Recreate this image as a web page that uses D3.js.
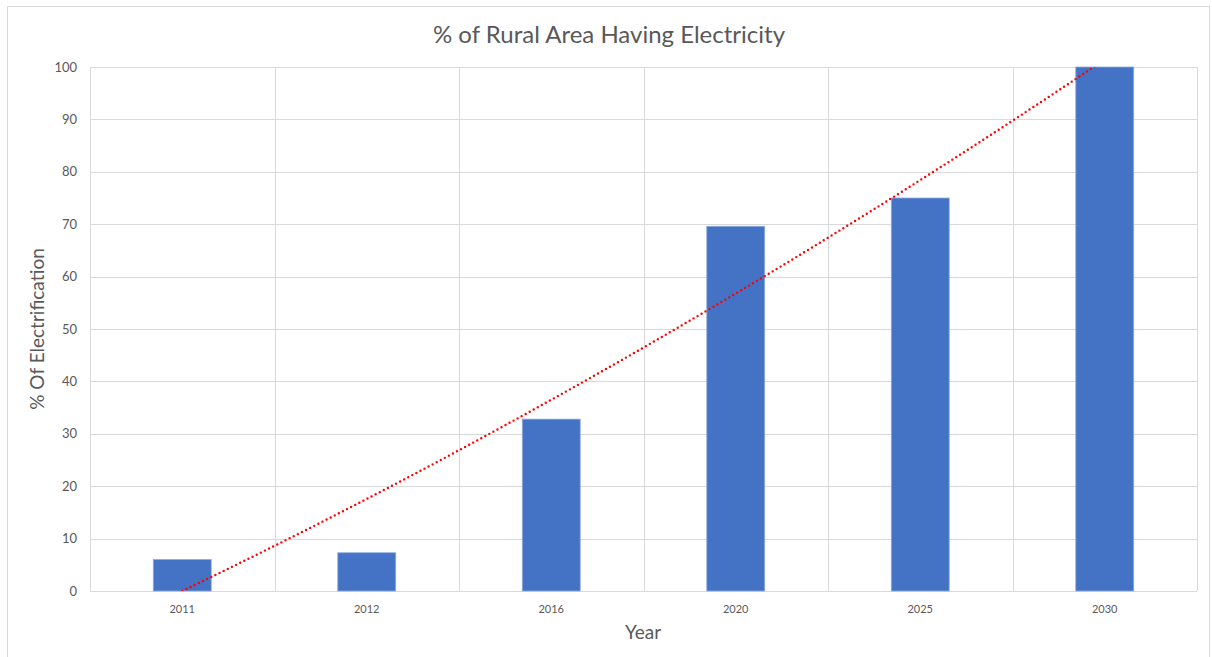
<!DOCTYPE html>
<html>
<head>
<meta charset="utf-8">
<script src="https://cdn.jsdelivr.net/npm/d3@7"></script>
<style>
  html, body { margin: 0; padding: 0; background: #fff; }
  svg { display: block; }
  text { font-family: "Lato", "Open Sans", sans-serif; }
</style>
</head>
<body>
<svg id="chart" width="1212" height="657"></svg>
<script>
// Rural electrification share by year
const years = ["2011", "2012", "2016", "2020", "2025", "2030"];
const electrified = [6, 7.3, 32.8, 69.6, 75, 100];
const yTicks = [0, 10, 20, 30, 40, 50, 60, 70, 80, 90, 100];

const chartTitle = "% of Rural Area Having Electricity";
const xTitle = "Year";
const yTitle = "% Of Electrification";

const svg = d3.select("#chart");
const W = 1212, H = 657;
const plot = { left: 90, right: 1197, top: 67, bottom: 591 };

// chart frame
svg.append("rect")
  .attr("x", 7.5).attr("y", 6.5)
  .attr("width", 1202).attr("height", 660)
  .attr("fill", "#fff").attr("stroke", "#d9d9d9");

const x = d3.scaleBand()
  .domain(years)
  .range([plot.left, plot.right])
  .paddingInner(0.686)
  .paddingOuter(0.343);

const y = d3.scaleLinear()
  .domain([0, 100])
  .range([plot.bottom, plot.top]);

const step = x.step();

// horizontal gridlines
svg.append("g")
  .selectAll("line")
  .data(yTicks)
  .join("line")
  .attr("x1", plot.left).attr("x2", plot.right)
  .attr("y1", d => Math.round(y(d)) + 0.5)
  .attr("y2", d => Math.round(y(d)) + 0.5)
  .attr("stroke", "#d9d9d9").attr("stroke-width", 1);

// vertical gridlines at category boundaries
const bounds = years.map((d, i) => plot.left + i * step).concat([plot.right]);
svg.append("g")
  .selectAll("line")
  .data(bounds)
  .join("line")
  .attr("x1", d => Math.round(d) + 0.5).attr("x2", d => Math.round(d) + 0.5)
  .attr("y1", plot.top).attr("y2", plot.bottom)
  .attr("stroke", "#d9d9d9").attr("stroke-width", 1);

// y axis tick labels
const yAxis = d3.axisLeft(y).tickValues(yTicks).tickSize(0).tickPadding(13);
const gy = svg.append("g").attr("transform", `translate(${plot.left},0)`).call(yAxis);
gy.select(".domain").remove();
gy.selectAll("text")
  .attr("fill", "#595959")
  .style("font-size", "13px")
  .style("font-family", "Lato, 'Open Sans', sans-serif");

// x axis tick labels
const xAxis = d3.axisBottom(x).tickSize(0).tickPadding(14);
const gx = svg.append("g").attr("transform", `translate(0,${plot.bottom})`).call(xAxis);
gx.select(".domain").remove();
gx.selectAll("text")
  .attr("fill", "#595959")
  .style("font-size", "11px")
  .style("font-family", "Lato, 'Open Sans', sans-serif");

// bars
svg.append("g")
  .selectAll("rect")
  .data(years.map((yr, i) => ({ yr, v: electrified[i] })))
  .join("rect")
  .attr("x", d => x(d.yr))
  .attr("y", d => y(d.v))
  .attr("width", x.bandwidth())
  .attr("height", d => y(0) - y(d.v))
  .attr("fill", "#4472c4")
  .attr("stroke", "#8faadc")
  .attr("stroke-width", 0.8);

// polynomial (order 2) trendline fitted on category index 1..n
function quadFit(ys) {
  const n = ys.length;
  let s = [0, 0, 0, 0, 0], t = [0, 0, 0];
  ys.forEach((v, i) => {
    const xi = i + 1;
    for (let k = 0; k < 5; k++) s[k] += Math.pow(xi, k);
    for (let k = 0; k < 3; k++) t[k] += v * Math.pow(xi, k);
  });
  const A = [[s[0], s[1], s[2]], [s[1], s[2], s[3]], [s[2], s[3], s[4]]];
  const b = t.slice();
  for (let c = 0; c < 3; c++) {
    for (let r = c + 1; r < 3; r++) {
      const f = A[r][c] / A[c][c];
      for (let k = c; k < 3; k++) A[r][k] -= f * A[c][k];
      b[r] -= f * b[c];
    }
  }
  const coef = [0, 0, 0];
  for (let r = 2; r >= 0; r--) {
    let acc = b[r];
    for (let k = r + 1; k < 3; k++) acc -= A[r][k] * coef[k];
    coef[r] = acc / A[r][r];
  }
  return xi => coef[0] + coef[1] * xi + coef[2] * xi * xi;
}
const trend = quadFit(electrified);
const idxToX = xi => x(years[0]) + x.bandwidth() / 2 + (xi - 1) * step;
const trendPts = d3.range(1, years.length + 0.001, 0.02).map(xi => [idxToX(xi), y(trend(xi))]);

svg.append("clipPath").attr("id", "plotClip")
  .append("rect")
  .attr("x", plot.left).attr("y", plot.top)
  .attr("width", plot.right - plot.left).attr("height", plot.bottom - plot.top);

svg.append("path")
  .attr("clip-path", "url(#plotClip)")
  .attr("d", d3.line()(trendPts))
  .attr("fill", "none")
  .attr("stroke", "#ff0000")
  .attr("stroke-width", 2.4)
  .attr("stroke-linecap", "round")
  .attr("stroke-dasharray", "0 4.6");

// titles
svg.append("text")
  .attr("x", 609).attr("y", 43)
  .attr("text-anchor", "middle")
  .attr("fill", "#595959")
  .style("font-size", "24px")
  .text(chartTitle);

svg.append("text")
  .attr("x", 643).attr("y", 639)
  .attr("text-anchor", "middle")
  .attr("fill", "#595959")
  .style("font-size", "19px")
  .text(xTitle);

svg.append("text")
  .attr("transform", `translate(44,${(plot.top + plot.bottom) / 2}) rotate(-90)`)
  .attr("text-anchor", "middle")
  .attr("fill", "#595959")
  .style("font-size", "19px")
  .text(yTitle);
</script>
</body>
</html>
